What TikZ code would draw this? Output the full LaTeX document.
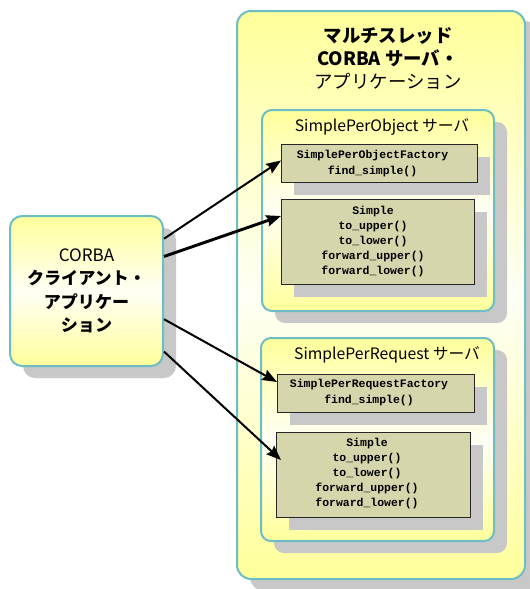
\documentclass[tikz,border=0pt]{standalone}
\usepackage{fontspec}
\newfontfamily\jpfont{Noto Sans CJK JP}
\newfontfamily\codefont{Liberation Mono}
\usetikzlibrary{shadows,arrows.meta,calc}

\definecolor{paneyellow}{RGB}{255,255,155}
\definecolor{panelight}{RGB}{255,255,245}
\definecolor{paneedge}{RGB}{108,190,196}
\definecolor{shadowgray}{RGB}{200,200,200}
\definecolor{classfill}{RGB}{214,214,172}

\tikzset{
  pane/.style={draw=paneedge, line width=1.5pt, rounded corners=#1,
    top color=paneyellow, bottom color=paneyellow, middle color=panelight,
    anchor=north west, inner sep=0pt,
    general shadow={fill=shadowgray, shadow xshift=9.75pt, shadow yshift=-9pt}},
  pane/.default=7.5pt,
  classbox/.style={draw=black!85, line width=0.8pt, fill=classfill,
    anchor=north west, inner sep=0pt,
    general shadow={fill=shadowgray, shadow xshift=9pt, shadow yshift=-9pt}},
  titletext/.style={align=center, inner sep=0pt,
    font=\jpfont\fontsize{13.8pt}{17.6pt}\selectfont},
  clienttext/.style={align=center,
    font=\jpfont\fontsize{12.8pt}{17.5pt}\selectfont},
  servertext/.style={inner sep=0pt, font=\jpfont\fontsize{11.8pt}{13pt}\selectfont},
  factorytext/.style={align=center, inner sep=0pt,
    font=\codefont\bfseries\fontsize{8.6pt}{12pt}\selectfont},
  methodtext/.style={align=center, inner sep=0pt,
    font=\codefont\bfseries\fontsize{8.6pt}{11.25pt}\selectfont},
  conn/.style={line width=1.5pt, -{Stealth[length=11pt,width=8.5pt,inset=1.5pt]}},
  thickconn/.style={conn, line width=2.2pt}
}

\begin{document}
\begin{tikzpicture}[x=0.75pt,y=-0.75pt]
\useasboundingbox (0,0) rectangle (529,589);

% multithreaded server application
\node[pane=10.5pt, general shadow={fill=shadowgray, shadow xshift=10.5pt, shadow yshift=-7.5pt},
      minimum width=216pt, minimum height=426pt] (app) at (236,10) {};
\node[titletext] (apptitle) at (388,58.5)
  {{\bfseries マルチスレッド}\\{\bfseries CORBA サーバ・}\\アプリケーション};

% SimplePerObject server
\node[pane, minimum width=174pt, minimum height=150.75pt] (srvobj) at (261,109) {};
\node[servertext] (srvobjlabel) at (382,127) {SimplePerObject サーバ};
\node[classbox, minimum width=147pt, minimum height=28.5pt] (f1) at (281,144) {};
\node[factorytext] (f1text) at (372.5,163.5) {SimplePerObjectFactory\\find\_simple()};
\node[classbox, minimum width=144.75pt, minimum height=63.75pt] (s1) at (281,199) {};
\node[methodtext] (s1text) at (373,242)
  {Simple\\to\_upper()\\to\_lower()\\forward\_upper()\\forward\_lower()};

% SimplePerRequest server
\node[pane, minimum width=174.75pt, minimum height=152.25pt] (srvreq) at (260,337) {};
\node[servertext] (srvreqlabel) at (387,355) {SimplePerRequest サーバ};
\node[classbox, minimum width=147.75pt, minimum height=28.5pt] (f2) at (277,374) {};
\node[factorytext] (f2text) at (369,393) {SimplePerRequestFactory\\find\_simple()};
\node[classbox, minimum width=145.5pt, minimum height=63.75pt] (s2) at (276,432) {};
\node[methodtext] (s2text) at (367,474)
  {Simple\\to\_upper()\\to\_lower()\\forward\_upper()\\forward\_lower()};

% client application
\node[pane=9pt, clienttext, minimum width=114.75pt, minimum height=112.5pt] (client) at (9,215)
  {CORBA\\{\bfseries クライアント・}\\{\bfseries アプリケー}\\{\bfseries ション}};

% requests from the client
\draw[conn] (client.34) -- ($(f1.west)+(0,-3)$);
\draw[thickconn] (client.24) -- ($(s1.north west)+(0,17)$);
\draw[conn] (client.-20) -- ($(f2.north west)+(0,8)$);
\draw[conn] (client.-38) -- ($(s2.north west)+(5,28)$);
\end{tikzpicture}
\end{document}
